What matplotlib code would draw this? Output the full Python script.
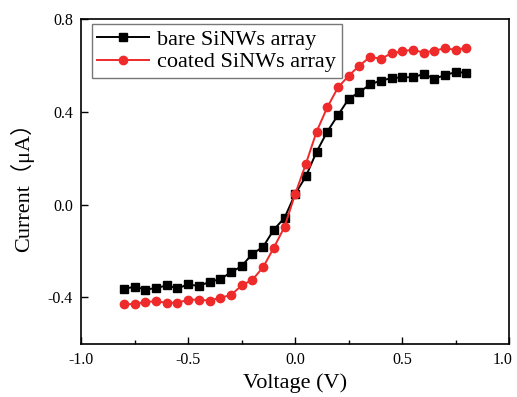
import matplotlib
matplotlib.use("Agg")
import matplotlib.pyplot as plt
import matplotlib.transforms as mtransforms
from matplotlib.ticker import MultipleLocator

plt.rcParams["font.family"] = ["Liberation Serif", "Noto Sans CJK SC", "DejaVu Sans"]

# ── Data ──────────────────────────────────────────────────
voltage = [-0.80, -0.75, -0.70, -0.65, -0.60, -0.55, -0.50, -0.45, -0.40,
           -0.35, -0.30, -0.25, -0.20, -0.15, -0.10, -0.05, 0.00, 0.05,
           0.10, 0.15, 0.20, 0.25, 0.30, 0.35, 0.40, 0.45, 0.50, 0.55,
           0.60, 0.65, 0.70, 0.75, 0.80]

bare = [-0.363, -0.354, -0.366, -0.360, -0.348, -0.361, -0.344, -0.351,
        -0.333, -0.321, -0.292, -0.265, -0.212, -0.182, -0.108, -0.057,
        0.046, 0.122, 0.228, 0.315, 0.386, 0.456, 0.485, 0.518, 0.535,
        0.545, 0.549, 0.549, 0.563, 0.543, 0.558, 0.572, 0.568]

coated = [-0.429, -0.429, -0.419, -0.417, -0.423, -0.423, -0.410, -0.410,
          -0.414, -0.401, -0.390, -0.348, -0.324, -0.270, -0.186, -0.096,
          0.046, 0.176, 0.315, 0.420, 0.505, 0.556, 0.599, 0.637, 0.629,
          0.652, 0.661, 0.668, 0.655, 0.664, 0.674, 0.667, 0.677]

x_ticks = [-1.0, -0.5, 0.0, 0.5, 1.0]
y_ticks = [-0.4, 0.0, 0.4, 0.8]

# ── Figure ────────────────────────────────────────────────
fig = plt.figure(figsize=(5.17, 3.97), dpi=100)
ax = fig.add_axes([0.157, 0.134, 0.828, 0.818])

ax.plot(voltage, bare, color="black", marker="s", markersize=5.5,
        linewidth=1.4, label="bare SiNWs array")
ax.plot(voltage, coated, color="#ee2a2a", marker="o", markersize=6,
        linewidth=1.4, label="coated SiNWs array")

ax.set_xlim(-1.0, 1.0)
ax.set_ylim(-0.6, 0.8)
ax.set_xticks(x_ticks)
ax.set_yticks(y_ticks)
ax.set_xticklabels([f"{v:.1f}" for v in x_ticks])
ax.set_yticklabels([f"{v:.1f}" for v in y_ticks])
ax.xaxis.set_minor_locator(MultipleLocator(0.25))

ax.tick_params(which="major", direction="in", length=5, width=1,
               labelsize=11.5, pad=6)
ax.tick_params(which="minor", direction="in", length=3, width=1)
for s in ax.spines.values():
    s.set_linewidth(1.2)

# keep the rightmost tick label inside the canvas
last = ax.get_xticklabels()[-1]
last.set_transform(last.get_transform() +
                   mtransforms.ScaledTranslation(-5 / 72, 0, fig.dpi_scale_trans))

ax.set_xlabel("Voltage (V)", fontsize=16, labelpad=4)
ax.set_ylabel("Current（μA）", fontsize=16, labelpad=10)

leg = ax.legend(loc="upper left", bbox_to_anchor=(0.025, 0.986),
                borderaxespad=0, fontsize=16, frameon=True, fancybox=False,
                framealpha=1, edgecolor="#777777", handlelength=2.3,
                handletextpad=0.4, borderpad=0.25, labelspacing=0.1)
leg.get_frame().set_linewidth(1.0)

fig.savefig("out.png", dpi=100)
